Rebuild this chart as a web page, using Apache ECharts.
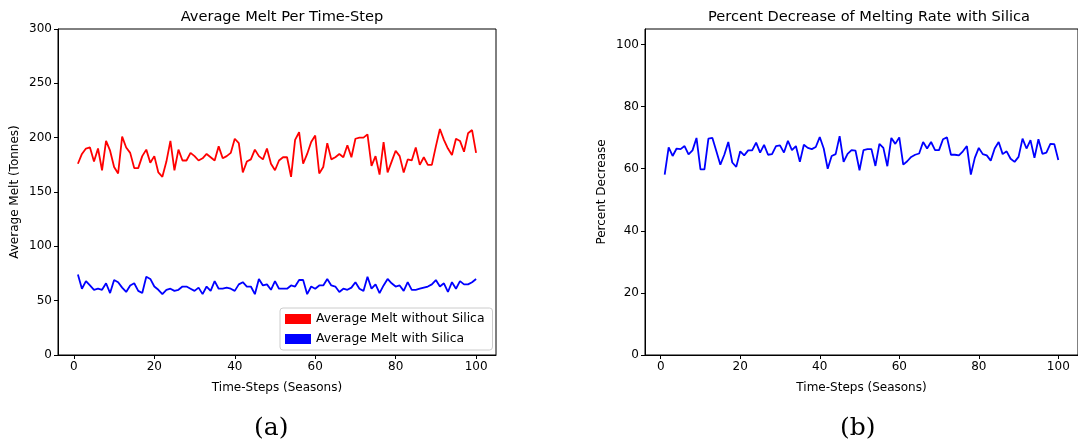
<!DOCTYPE html>
<html><head><meta charset="utf-8">
<script src="https://cdn.jsdelivr.net/npm/echarts@6/dist/echarts.min.js"></script>
<style>html,body{margin:0;padding:0;background:#fff}#c{width:1078px;height:448px}</style>
</head><body><div id="c"></div>
<script>
var redMelt = [176,185,190,191,178,190,170,197,188,173,167,201,191,186,172,172,183,189,177,183,
168,164,178,197,170,189,179,179,186,183,179,181,185,182,179,192,181,183,186,199,
195,168,178,180,189,183,180,190,176,170,179,182,182,164,198,205,176,185,196,202,
167,173,195,180,182,185,182,193,182,199,200,200,203,174,183,166,196,168,178,188,
183,168,180,179,191,175,182,175,175,192,208,198,190,184,199,197,187,204,207,186];
var blueMelt = [74,61,68,64,60,61,60,66,57,69,67,62,58,64,66,59,57,72,70,63,
60,56,60,61,59,60,63,63,61,59,62,56,63,59,68,61,61,62,61,59,
65,67,63,63,56,70,64,65,60,68,61,61,61,64,63,69,69,56,63,61,
64,64,70,64,63,58,61,60,62,67,61,59,72,61,65,57,64,70,66,63,
64,59,67,60,60,61,62,63,65,69,63,66,58,67,61,68,65,65,67,70];
var pctDecrease = [58.1,66.9,64.1,66.5,66.3,67.3,64.6,65.9,69.9,59.8,59.8,69.7,69.9,65.6,61.3,64.5,68.6,62.0,60.6,65.6,
64.3,65.9,65.9,68.4,65.2,67.7,64.5,64.7,67.3,67.5,65.2,69.0,66.0,67.3,62.2,67.7,66.7,66.3,67.0,70.2,
66.5,60.0,64.1,64.7,70.5,62.2,64.8,66.0,65.8,59.5,66.0,66.3,66.3,60.9,68.0,66.7,60.8,69.9,68.0,70.1,
61.3,62.4,63.8,64.5,64.9,68.6,66.5,68.6,66.0,66.0,69.5,70.1,64.5,64.5,64.3,65.6,67.3,58.1,63.5,66.7,
64.7,64.3,62.6,66.5,68.6,64.7,65.6,63.2,62.2,63.8,69.7,66.5,69.2,63.5,69.5,64.8,65.2,68.0,67.9,62.8];
var xTicks = [0,20,40,60,80,100];
var yTicksLeft = [0,50,100,150,200,250,300];
var yTicksRight = [0,20,40,60,80,100];

function pairs(arr){ return arr.map(function(v,i){ return [i+1, v]; }); }

var FONT = 'DejaVu Sans';
function xAxisCfg(gi){
  return {
    type:'value', gridIndex:gi, min:-3.95, max:104.95,
    name:'Time-Steps (Seasons)', nameLocation:'middle', nameGap:27,
    nameTextStyle:{color:'#000', fontSize:12, fontFamily:FONT},
    axisLine:{show:true, onZero:false, lineStyle:{color:'#000', width:1}},
    axisTick:{show:true, length:4, inside:false, customValues:xTicks, lineStyle:{color:'#000'}},
    axisLabel:{color:'#000', fontSize:12, fontFamily:FONT, margin:6, customValues:xTicks},
    splitLine:{show:false}
  };
}
function yAxisCfg(gi, name, max, ticks){
  return {
    type:'value', gridIndex:gi, min:0, max:max,
    name:name, nameLocation:'middle', nameGap:37,
    nameTextStyle:{color:'#000', fontSize:12, fontFamily:FONT},
    axisLine:{show:true, onZero:false, lineStyle:{color:'#000', width:1}},
    axisTick:{show:true, length:4, inside:false, customValues:ticks, lineStyle:{color:'#000'}},
    axisLabel:{color:'#000', fontSize:12, fontFamily:FONT, margin:6, customValues:ticks},
    splitLine:{show:false}
  };
}

var chart = echarts.init(document.getElementById('c'), null, {renderer:'canvas'});
chart.setOption({
  backgroundColor:'#fff',
  animation:false,
  title:[
    {text:'Average Melt Per Time-Step', left:277, top:5, textAlign:'center',
     textStyle:{fontSize:14.6, fontWeight:'normal', color:'#000', fontFamily:FONT}},
    {text:'Percent Decrease of Melting Rate with Silica', left:864, top:5, textAlign:'center',
     textStyle:{fontSize:14.6, fontWeight:'normal', color:'#000', fontFamily:FONT}}
  ],
  grid:[
    {left:58, top:29, width:438, height:326, show:true, borderColor:'#000', borderWidth:1, containLabel:false},
    {left:645, top:29, width:438, height:326, show:true, borderColor:'#000', borderWidth:1, containLabel:false}
  ],
  xAxis:[xAxisCfg(0), xAxisCfg(1)],
  yAxis:[yAxisCfg(0,'Average Melt (Tonnes)',300,yTicksLeft), yAxisCfg(1,'Percent Decrease',105,yTicksRight)],
  legend:{
    data:['Average Melt without Silica','Average Melt with Silica'],
    orient:'vertical', left:280, top:308, itemWidth:26, itemHeight:10, itemGap:8,
    icon:'rect', backgroundColor:'#fff', borderColor:'#ccc', borderWidth:1, borderRadius:3,
    padding:[5,8,5,5],
    textStyle:{color:'#000', fontSize:12.4, fontFamily:FONT}
  },
  series:[
    {name:'Average Melt without Silica', type:'line', xAxisIndex:0, yAxisIndex:0, data:pairs(redMelt),
     showSymbol:false, symbol:'none', lineStyle:{color:'#ff0000', width:1.8}, itemStyle:{color:'#ff0000'}},
    {name:'Average Melt with Silica', type:'line', xAxisIndex:0, yAxisIndex:0, data:pairs(blueMelt),
     showSymbol:false, symbol:'none', lineStyle:{color:'#0000ff', width:1.8}, itemStyle:{color:'#0000ff'}},
    {name:'Percent Decrease', type:'line', xAxisIndex:1, yAxisIndex:1, data:pairs(pctDecrease),
     showSymbol:false, symbol:'none', lineStyle:{color:'#0000ff', width:1.8}, itemStyle:{color:'#0000ff'}}
  ],
  graphic:[
    {type:'text', left:254, top:416, style:{text:'(a)', fontSize:25, fontFamily:'DejaVu Serif', fill:'#000'}},
    {type:'text', left:840, top:416, style:{text:'(b)', fontSize:25, fontFamily:'DejaVu Serif', fill:'#000'}}
  ]
});
</script>
</body></html>
